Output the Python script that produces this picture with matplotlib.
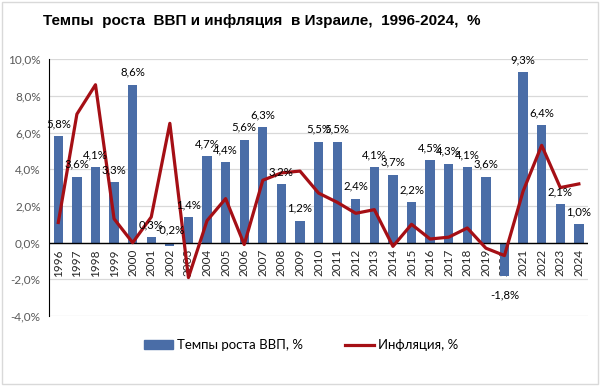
import matplotlib.pyplot as plt
from matplotlib.patches import Rectangle
from matplotlib.lines import Line2D
from matplotlib.patches import Patch

years = [str(y) for y in range(1996, 2025)]
gdp_growth = [5.8, 3.6, 4.1, 3.3, 8.6, 0.3, -0.2, 1.4, 4.7, 4.4, 5.6, 6.3, 3.2, 1.2,
              5.5, 5.5, 2.4, 4.1, 3.7, 2.2, 4.5, 4.3, 4.1, 3.6, -1.8, 9.3, 6.4, 2.1, 1.0]
inflation = [1.1, 7.0, 8.6, 1.3, 0.0, 1.4, 6.5, -1.9, 1.2, 2.4, -0.1, 3.4, 3.8, 3.9,
             2.7, 2.2, 1.6, 1.8, -0.2, 1.0, 0.2, 0.3, 0.8, -0.3, -0.7, 2.8, 5.3, 3.0, 3.2]
y_ticks = [-4, -2, 0, 2, 4, 6, 8, 10]

BAR_COLOR = "#4A6DA7"
LINE_COLOR = "#A50F15"
FONT = "Lato"


def pct(v):
    return f"{v:.1f}%".replace(".", ",")


def main():
    fig = plt.figure(figsize=(6.02, 3.86), dpi=100)
    fig.patches.append(Rectangle((0.004, 0.004), 0.99, 0.99, transform=fig.transFigure,
                                 fill=False, edgecolor="#D9D9D9", linewidth=1))
    ax = fig.add_axes([0.0814, 0.181, 0.8956, 0.666])

    x = list(range(len(years)))
    ax.bar(x, gdp_growth, width=0.5, color=BAR_COLOR, zorder=2)
    ax.plot(x, inflation, color=LINE_COLOR, linewidth=2.3, zorder=3)

    # подписи значений над столбцами (отрицательный большой - снизу)
    for xi, v in zip(x, gdp_growth):
        if v < -1:
            ax.annotate(pct(v), (xi, v), xytext=(0, -10), textcoords="offset points",
                        ha="center", va="top", fontsize=8.2, family=FONT, zorder=4)
        else:
            ax.annotate(pct(v), (xi, max(v, 0)), xytext=(0, 5), textcoords="offset points",
                        ha="center", va="bottom", fontsize=8.2, family=FONT, zorder=4)

    ax.set_xlim(-0.5, len(years) - 0.5)
    ax.set_ylim(-4, 10)
    ax.set_yticks(y_ticks)
    ax.set_yticklabels([pct(t) for t in y_ticks], fontsize=8.5, color="#595959", family=FONT)
    ax.tick_params(axis="y", length=0, pad=6)
    ax.grid(axis="y", color="#D9D9D9", linewidth=0.9, zorder=0)
    ax.axhline(0, color="black", linewidth=1, zorder=2.5)

    ax.set_xticks([])
    for xi, yr in zip(x, years):
        ax.text(xi, -0.35, yr, rotation=90, ha="center", va="top", fontsize=8.5,
                family=FONT, color="#262626", zorder=1)

    for s in ["top", "right", "bottom"]:
        ax.spines[s].set_visible(False)
    ax.spines["left"].set_color("black")

    fig.text(0.434, 0.945, "Темпы  роста  ВВП и инфляция  в Израиле,  1996-2024,  %",
             ha="center", va="center", fontsize=11, fontweight="bold",
             family="Liberation Sans")

    handles = [Patch(color=BAR_COLOR), Line2D([0], [0], color=LINE_COLOR, linewidth=2.3)]
    fig.legend(handles, ["Темпы роста ВВП, %", "Инфляция, %"], loc="center",
               bbox_to_anchor=(0.5, 0.105), ncol=2, frameon=False,
               prop={"family": FONT, "size": 9.5}, handlelength=2.2, handletextpad=0.3,
               columnspacing=3.2)

    fig.savefig("out.png", dpi=100)


if __name__ == "__main__":
    main()
